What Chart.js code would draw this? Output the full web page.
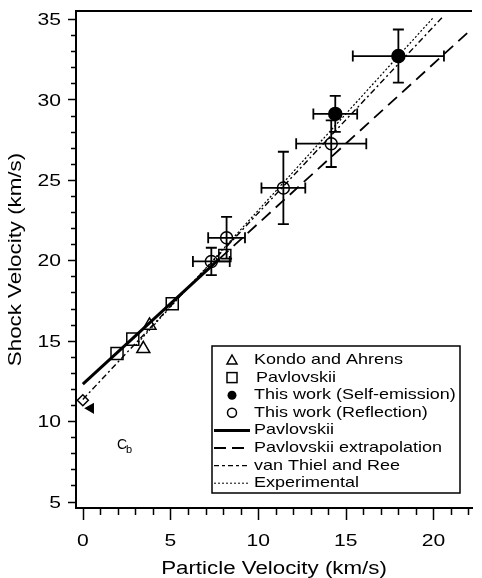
<!DOCTYPE html>
<html lang="en">
<head>
    <meta charset="UTF-8">
    <title>Shock Velocity vs Particle Velocity</title>
    <script src="https://cdn.jsdelivr.net/npm/chart.js"></script>
    <style>
        html, body { margin: 0; padding: 0; background: #fff; }
        #wrap { width: 482px; height: 578px; position: relative; }
    </style>
</head>
<body>
    <div id="wrap"><canvas id="hugoniot"></canvas></div>

    <script>
        // Kondo and Ahrens (open triangles)
        const kondoU  = [3.45, 3.8];
        const kondoUs = [14.5, 15.95];

        // Pavlovskii (open squares)
        const pavU  = [1.95, 2.85, 5.1, 8.1];
        const pavUs = [14.2, 15.1, 17.3, 20.3];

        // This work, self-emission (filled circles) with errors
        const emisU    = [14.4, 18.0];
        const emisUs   = [29.1, 32.7];
        const emisUErr = [1.25, 2.6];
        const emisUsErr = [1.12, 1.65];

        // This work, reflection (open circles) with errors
        const reflU    = [7.33, 8.2, 11.44, 14.17];
        const reflUs   = [19.93, 21.4, 24.5, 27.25];
        const reflUErr = [1.05, 1.05, 1.25, 2.0];
        const reflUsErr = [0.85, 1.3, 2.25, 1.45];

        // C_b markers near u = 0
        const cbU  = [0];
        const cbUs = [11.3];
        const cbArrowU  = [0.45];
        const cbArrowUs = [10.8];

        // fitted lines (end points)
        const pavFitU  = [0, 7.8];
        const pavFitUs = [12.3, 20.1];
        const pavExtU  = [7.8, 22.2];
        const pavExtUs = [20.1, 34.4];
        const vtrU  = [0, 20.5];
        const vtrUs = [11.35, 35.1];
        const expU  = [3.0, 20.0];
        const expUs = [14.7, 35.1];

        const xTicks = [0, 5, 10, 15, 20];
        const yTicks = [5, 10, 15, 20, 25, 30, 35];

        const legendItems = [
            { label: 'Kondo and Ahrens', kind: 'triangle' },
            { label: 'Pavlovskii', kind: 'square' },
            { label: 'This work (Self-emission)', kind: 'dot' },
            { label: 'This work (Reflection)', kind: 'circle' },
            { label: 'Pavlovskii', kind: 'solid' },
            { label: 'Pavlovskii extrapolation', kind: 'longdash' },
            { label: 'van Thiel and Ree', kind: 'dashdot' },
            { label: 'Experimental', kind: 'dotted' }
        ];

        const FONT = '"Liberation Sans", Arial, Helvetica, sans-serif';
        const WIDEN = 1.24;   // the lettering is set noticeably wide

        function pts(xs, ys) {
            return xs.map((x, i) => ({ x: x, y: ys[i] }));
        }

        function lineSet(xs, ys, width, dash) {
            return {
                type: 'line',
                data: pts(xs, ys),
                borderColor: '#000',
                borderWidth: width,
                borderDash: dash,
                pointRadius: 0,
                fill: false,
                tension: 0
            };
        }

        function markerSet(xs, ys, style, radius, filled, extra) {
            return Object.assign({
                type: 'scatter',
                data: pts(xs, ys),
                pointStyle: style,
                pointRadius: radius,
                pointBorderWidth: 1.5,
                pointBorderColor: '#000',
                pointBackgroundColor: filled ? '#000' : '#fff',
                showLine: false
            }, extra || {});
        }

        function wideText(ctx, text, x, y, size, align, angle) {
            ctx.save();
            ctx.font = size + 'px ' + FONT;
            ctx.textAlign = align;
            ctx.textBaseline = 'middle';
            ctx.translate(x, y);
            if (angle) ctx.rotate(angle);
            ctx.scale(WIDEN, 1);
            ctx.fillText(text, 0, 0);
            ctx.restore();
        }

        // ticks, labels, error bars, frame, legend and C_b label
        const decorPlugin = {
            id: 'decor',
            afterDatasetsDraw(chart) {
                const ctx = chart.ctx;
                const xs = chart.scales.x, ys = chart.scales.y;
                const area = chart.chartArea;
                ctx.save();
                ctx.strokeStyle = '#000';
                ctx.fillStyle = '#000';

                // error bars
                function errBars(us, uss, uErr, usErr) {
                    ctx.lineWidth = 1.8;
                    us.forEach((u, i) => {
                        const px = xs.getPixelForValue(u);
                        const py = ys.getPixelForValue(uss[i]);
                        const x0 = xs.getPixelForValue(u - uErr[i]);
                        const x1 = xs.getPixelForValue(u + uErr[i]);
                        const y0 = ys.getPixelForValue(uss[i] + usErr[i]);
                        const y1 = ys.getPixelForValue(uss[i] - usErr[i]);
                        const c = 5.5;
                        ctx.beginPath();
                        ctx.moveTo(x0, py); ctx.lineTo(x1, py);
                        ctx.moveTo(x0, py - c); ctx.lineTo(x0, py + c);
                        ctx.moveTo(x1, py - c); ctx.lineTo(x1, py + c);
                        ctx.moveTo(px, y0); ctx.lineTo(px, y1);
                        ctx.moveTo(px - c, y0); ctx.lineTo(px + c, y0);
                        ctx.moveTo(px - c, y1); ctx.lineTo(px + c, y1);
                        ctx.stroke();
                    });
                }
                errBars(reflU, reflUs, reflUErr, reflUsErr);
                errBars(emisU, emisUs, emisUErr, emisUsErr);

                // top frame line
                ctx.lineWidth = 2;
                ctx.beginPath();
                ctx.moveTo(area.left, area.top);
                ctx.lineTo(area.right, area.top);
                ctx.stroke();

                // major and minor ticks
                ctx.lineWidth = 1.5;
                ctx.beginPath();
                for (let v = 0; v <= 22; v++) {
                    const px = Math.round(xs.getPixelForValue(v)) + 0.5;
                    const len = v % 5 === 0 ? 12 : 7;
                    ctx.moveTo(px, area.bottom);
                    ctx.lineTo(px, area.bottom + len);
                }
                for (let v = 5; v <= 35; v++) {
                    const py = Math.round(ys.getPixelForValue(v)) + 0.5;
                    const len = v % 5 === 0 ? 8 : 5;
                    ctx.moveTo(area.left, py);
                    ctx.lineTo(area.left - len, py);
                }
                ctx.stroke();

                // tick labels
                xTicks.forEach(v => {
                    wideText(ctx, String(v), xs.getPixelForValue(v), area.bottom + 33, 17, 'center');
                });
                yTicks.forEach(v => {
                    wideText(ctx, String(v), area.left - 15, ys.getPixelForValue(v) + 1.5, 17, 'right');
                });

                // axis titles
                wideText(ctx, 'Particle Velocity (km/s)', (area.left + area.right) / 2, 569, 18, 'center');
                wideText(ctx, 'Shock Velocity (km/s)', 16, (area.top + area.bottom) / 2, 18, 'center', -Math.PI / 2);

                // C_b label
                ctx.font = '14px ' + FONT;
                ctx.textBaseline = 'alphabetic';
                ctx.textAlign = 'left';
                ctx.fillText('C', 117, 449);
                ctx.font = '11px ' + FONT;
                ctx.fillText('b', 126, 453);

                // legend box
                const bx = 212, by = 346, bw = 248, bh = 147;
                ctx.fillStyle = '#fff';
                ctx.fillRect(bx, by, bw, bh);
                ctx.fillStyle = '#000';
                ctx.lineWidth = 1.5;
                ctx.strokeRect(bx, by, bw, bh);

                const rowY0 = 360, rowH = 17.6;
                const symX = 232, textX = 254;
                legendItems.forEach((item, i) => {
                    const y = rowY0 + i * rowH;
                    ctx.save();
                    ctx.lineWidth = 1.5;
                    if (item.kind === 'triangle') {
                        ctx.beginPath();
                        ctx.moveTo(symX, y - 5);
                        ctx.lineTo(symX + 5, y + 4);
                        ctx.lineTo(symX - 5, y + 4);
                        ctx.closePath();
                        ctx.stroke();
                    } else if (item.kind === 'square') {
                        ctx.strokeRect(symX - 5, y - 5, 10, 10);
                    } else if (item.kind === 'dot' || item.kind === 'circle') {
                        ctx.beginPath();
                        ctx.arc(symX, y, 4.5, 0, Math.PI * 2);
                        if (item.kind === 'dot') ctx.fill(); else ctx.stroke();
                    } else {
                        const dashes = {
                            solid: [[], 3], longdash: [[12, 6], 2.2],
                            dashdot: [[5, 3, 3, 3], 1.3], dotted: [[2, 2], 1]
                        }[item.kind];
                        ctx.setLineDash(dashes[0]);
                        ctx.lineWidth = dashes[1];
                        ctx.beginPath();
                        ctx.moveTo(214, y);
                        ctx.lineTo(250, y);
                        ctx.stroke();
                    }
                    ctx.restore();
                    wideText(ctx, item.label, textX + (item.kind === 'square' ? 2 : 0), y, 14.5, 'left');
                });

                ctx.restore();
            }
        };

        const ctx = document.getElementById('hugoniot').getContext('2d');
        new Chart(ctx, {
            data: {
                datasets: [
                    lineSet(pavFitU, pavFitUs, 3, []),
                    lineSet(pavExtU, pavExtUs, 1.8, [12, 7]),
                    lineSet(vtrU, vtrUs, 1.4, [6, 3, 2, 3]),
                    lineSet(expU, expUs, 1.2, [2, 2]),
                    markerSet(pavU, pavUs, 'rect', 8.5, false),
                    markerSet(kondoU, kondoUs, 'triangle', 7.5, false),
                    markerSet(cbU, cbUs, 'rectRot', 5.5, false),
                    markerSet(cbArrowU, cbArrowUs, 'triangle', 5, true, { pointRotation: 150 }),
                    markerSet(reflU, reflUs, 'circle', 6, false, { pointBackgroundColor: 'rgba(255,255,255,0)' }),
                    markerSet(emisU, emisUs, 'circle', 6.5, true)
                ]
            },
            options: {
                responsive: true,
                maintainAspectRatio: false,
                animation: false,
                layout: { padding: { top: 11, right: 0, left: 0, bottom: 0 } },
                plugins: {
                    legend: { display: false },
                    tooltip: { enabled: false }
                },
                scales: {
                    x: {
                        type: 'linear',
                        min: -0.39,
                        max: 22.2,
                        afterBuildTicks: (scale) => { scale.ticks = xTicks.map(v => ({ value: v })); },
                        afterFit: (scale) => { scale.height = 70; },
                        grid: { display: false, drawTicks: false },
                        border: { display: true, color: '#000', width: 2 },
                        ticks: { display: false }
                    },
                    y: {
                        type: 'linear',
                        min: 4.6,
                        max: 35.5,
                        afterBuildTicks: (scale) => { scale.ticks = yTicks.map(v => ({ value: v })); },
                        afterFit: (scale) => { scale.width = 76; },
                        grid: { display: false, drawTicks: false },
                        border: { display: true, color: '#000', width: 2 },
                        ticks: { display: false }
                    }
                }
            },
            plugins: [decorPlugin]
        });
    </script>
</body>
</html>
